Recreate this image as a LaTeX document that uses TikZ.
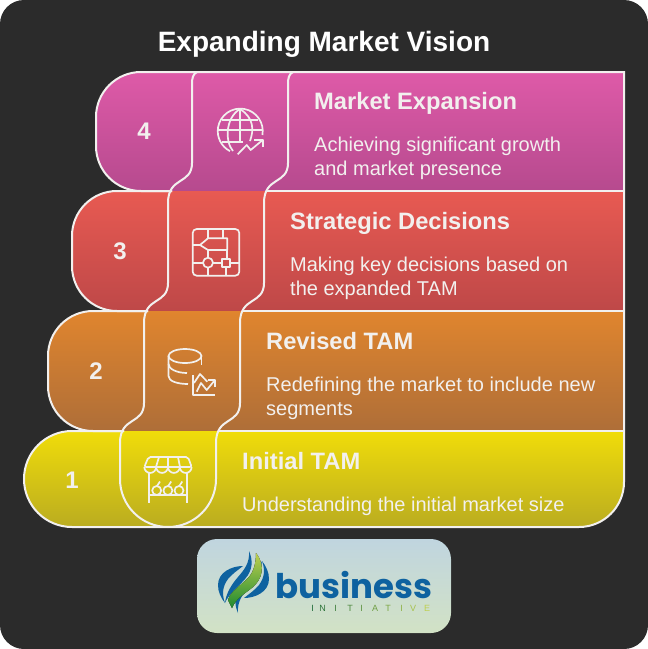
\documentclass[tikz,border=0pt]{standalone}
\usepackage{fontspec}
\setmainfont{Liberation Sans}
\newfontfamily\logofont{Poppins}
\definecolor{panelgray}{HTML}{2B2B2B}
\definecolor{linewhite}{HTML}{F2F0EE}
\definecolor{logoblue}{HTML}{0E62A0}
\definecolor{initdark}{HTML}{1F6B3A}
\definecolor{initlight}{HTML}{BFD050}
\definecolor{fourtop}{HTML}{DE5AA8}
\definecolor{fourbot}{HTML}{B64A8E}
\definecolor{threetop}{HTML}{E85A52}
\definecolor{threebot}{HTML}{BE4848}
\definecolor{twotop}{HTML}{E0852E}
\definecolor{twobot}{HTML}{AE6E38}
\definecolor{onetop}{HTML}{F0DC0A}
\definecolor{onebot}{HTML}{BAAC20}
\definecolor{logotop}{HTML}{C0D5DF}
\definecolor{logobot}{HTML}{D2E2C5}
\definecolor{swooshbot}{HTML}{1F8A30}
\tikzset{
  bandfour/.style={top color=fourtop,bottom color=fourbot},
  bandthree/.style={top color=threetop,bottom color=threebot},
  bandtwo/.style={top color=twotop,bottom color=twobot},
  bandone/.style={top color=onetop,bottom color=onebot},
  rim/.style={draw=linewhite,line width=2pt},
  glyph/.style={draw=linewhite,line width=1.7pt,line join=round},
  heading/.style={text=linewhite,anchor=base west,inner sep=0pt,font=\fontsize{23.7}{24}\selectfont\bfseries},
  blurb/.style={text=linewhite,anchor=base west,inner sep=0pt,font=\fontsize{20}{20}\selectfont},
  digit/.style={text=linewhite,inner sep=0pt,font=\fontsize{24}{24}\selectfont\bfseries},
}
\begin{document}
\begin{tikzpicture}[x=1pt,y=-1pt]
\useasboundingbox (0,0) rectangle (648,649);
\fill [white] (0,0) rectangle (648,649);
\fill [panelgray,rounded corners=24pt] (0,0) rectangle (648,649);
\node [text=white,inner sep=0pt,anchor=base,font=\fontsize{28}{28}\selectfont\bfseries] (title) at (324,51) {Expanding Market Vision};
% bands
\fill [bandfour] (141,72) -- (624,72) -- (624,191) -- (141,191) arc (90:180:45) -- (96,117) arc (180:270:45) -- cycle;
\fill [bandthree] (117,191) -- (624,191) -- (624,311) -- (117,311) arc (90:180:45) -- (72,236) arc (180:270:45) -- cycle;
\fill [bandtwo] (93,311) -- (624,311) -- (624,431) -- (93,431) arc (90:180:45) -- (48,356) arc (180:270:45) -- cycle;
\fill [bandone] (72,431) -- (624,431) -- (624,482) arc (0:90:45) -- (72,527) arc (90:270:48) -- cycle;
% outline
\draw [rim] (141,72) -- (624,72) -- (624,482) arc (0:90:45) -- (72,527) arc (90:270:48) -- (124,431);
\draw [rim] (172,191) -- (117,191) arc (270:180:45) -- (72,266) arc (180:90:45) -- (148,311);
\draw [rim] (172,191) -- (141,191) arc (90:180:45) -- (96,117) arc (180:270:45);
\draw [rim] (124,431) -- (93,431) arc (90:180:45) -- (48,356) arc (180:270:45) -- (148,311);
\draw [rim] (267,191) -- (624,191);
\draw [rim] (243,311) -- (624,311);
\draw [rim] (219,431) -- (624,431);
% winding column
\draw [rim] (197,72) .. controls (193,74) and (192,78) .. (192,84) -- (192,163) .. controls (192,185) and (168,176) .. (168,203) -- (168,283) .. controls (168,305) and (144,296) .. (144,323) -- (144,403) .. controls (144,425) and (120,416) .. (120,443) -- (120,479) arc (180:90:48) arc (90:0:48) -- (216,443) .. controls (216,416) and (240,425) .. (240,403) -- (240,323) .. controls (240,296) and (264,305) .. (264,283) -- (264,203) .. controls (264,176) and (288,185) .. (288,163) -- (288,84) .. controls (288,78) and (289,74) .. (293,72);
% numbers
\node [digit] (num4) at (144,131) {4};
\node [digit] (num3) at (120,251) {3};
\node [digit] (num2) at (96,371) {2};
\node [digit] (num1) at (72,480) {1};
% globe
\draw [glyph] (262.4,135) arc (10:-243:22.5);
\draw [glyph] (240,109) .. controls (225,118) and (225,142) .. (233,151);
\draw [glyph] (240,109) .. controls (254,118) and (254,130) .. (250,141);
\draw [glyph] (240,109) -- (240,142);
\draw [glyph] (222,120) -- (258,120);
\draw [glyph] (217.5,130) -- (262.5,130);
\draw [glyph] (222,142) -- (243,142);
\draw [glyph] (237.7,154.3) -- (246.7,145) -- (250.7,150) -- (262.7,140);
\draw [glyph] (254,140) -- (262.7,140) -- (262.7,147);
% chip
\draw [glyph,rounded corners=4pt] (192.7,229) rectangle (239.3,275.7);
\draw [glyph] (200,245) -- (208,238.3) -- (227.3,238.3) -- (227.3,250) -- (208,250) -- cycle;
\draw [glyph] (208,229) -- (208,238.3);
\draw [glyph] (223,229) -- (223,238.3);
\draw [glyph] (192.7,245) -- (200,245);
\draw [glyph] (208,250) -- (208,257.7);
\draw [glyph] (227.3,250) -- (227.3,259);
\draw [glyph] (208,262.7) circle (5);
\draw [glyph] (221.7,259) rectangle (230,267);
\draw [glyph] (192.7,262.7) -- (203,262.7);
\draw [glyph] (213,262.7) -- (221.7,262.7);
\draw [glyph] (230,262.7) -- (239.3,262.7);
\draw [glyph] (208,267.7) -- (208,275.7);
\draw [glyph] (226,267) -- (226,275.7);
% database with chart
\draw [glyph] (185,356) ellipse (16.5 and 7);
\draw [glyph] (168.5,356) -- (168.5,376) .. controls (168.5,381) and (177,384) .. (188,384);
\draw [glyph] (168.5,364) .. controls (168.5,369) and (177,373) .. (187,373);
\draw [glyph] (201.5,356) -- (201.5,365);
\draw [glyph] (193.3,375) -- (193.3,395) -- (215,395);
\draw [glyph] (194,383) -- (200,374) -- (207.3,381.7);
\draw [glyph] (196.7,391.7) -- (201,383) -- (206.7,390) -- (215,380);
\draw [glyph] (208,380) -- (215,380) -- (215,387);
% stall
\draw [glyph,rounded corners=2pt] (148.5,457) -- (188,457) -- (191.7,467) -- (144.3,467) -- cycle;
\draw [glyph] (159,457) -- (156,467);
\draw [glyph] (168,457) -- (168,467);
\draw [glyph] (178,457) -- (180,467);
\draw [glyph] (144.3,467) arc (180:0:5.92) arc (180:0:5.92) arc (180:0:5.92) arc (180:0:5.92);
\draw [glyph] (149,472) -- (149,503);
\draw [glyph] (187.3,472) -- (187.3,503);
\draw [glyph] (149,495) -- (187.3,495);
\draw [glyph] (156.7,490.5) circle (4.5);
\draw [glyph] (167.9,490.5) circle (4.5);
\draw [glyph] (179,490.5) circle (4.5);
\draw [glyph] (157,486) -- (160,481.5);
\draw [glyph] (168.2,486) -- (171.2,481.5);
\draw [glyph] (179.3,486) -- (182.3,481.5);
% texts
\node [heading] (head4) at (314,109) {Market Expansion};
\node [blurb] (desc4a) at (314,151) {Achieving significant growth};
\node [blurb] (desc4b) at (314,175) {and market presence};
\node [heading] (head3) at (290,229) {Strategic Decisions};
\node [blurb] (desc3a) at (290,271) {Making key decisions based on};
\node [blurb] (desc3b) at (290,295) {the expanded TAM};
\node [heading] (head2) at (266,349) {Revised TAM};
\node [blurb] (desc2a) at (266,391) {Redefining the market to include new};
\node [blurb] (desc2b) at (266,415) {segments};
\node [heading] (head1) at (242,469) {Initial TAM};
\node [blurb] (desc1a) at (242,511) {Understanding the initial market size};
% logo
\fill [top color=logotop,bottom color=logobot,rounded corners=20pt] (197,539) rectangle (451,633);
\fill [logoblue] (243,566) .. controls (232,566) and (218,572) .. (218,585) .. controls (218,592) and (221,598) .. (225,603) .. controls (222,595) and (222,587) .. (228,579) .. controls (232,574) and (238,570) .. (243,566);
\fill [logoblue] (249,551) .. controls (253,560) and (253,570) .. (245,579) .. controls (238,587) and (228,595) .. (225,603) .. controls (226,593) and (232,584) .. (238,577) .. controls (244,570) and (250,563) .. (249,551);
\begin{scope}[rotate around={180:(243.5,582)}]
\fill [logoblue] (243,566) .. controls (232,566) and (218,572) .. (218,585) .. controls (218,592) and (221,598) .. (225,603) .. controls (222,595) and (222,587) .. (228,579) .. controls (232,574) and (238,570) .. (243,566);
\fill [logoblue] (249,551) .. controls (253,560) and (253,570) .. (245,579) .. controls (238,587) and (228,595) .. (225,603) .. controls (226,593) and (232,584) .. (238,577) .. controls (244,570) and (250,563) .. (249,551);
\end{scope}
\fill [top color=initlight,bottom color=swooshbot] (256,553) .. controls (256,562) and (254,572) .. (248,578) .. controls (240,586) and (230,592) .. (228,600) -- (232,608) .. controls (236,598) and (246,593) .. (253,587) .. controls (262,579) and (266,566) .. (256,553);
\node [text=logoblue,inner sep=0pt,anchor=base west,font=\logofont\fontsize{34}{34}\selectfont\bfseries] (logoname) at (275,598) {business};
\foreach \lx/\ltr/\pct [count=\i] in {312.7/I/100,322.7/N/90,335.7/I/80,350/T/70,361.7/I/60,375/A/50,388/T/40,401.6/I/30,413/V/15,427/E/0} {
  \node [text=initdark!\pct!initlight,inner sep=0pt,anchor=base,font=\fontsize{9}{9}\selectfont] (logoi\i) at (\lx,611) {\ltr};
}
\end{tikzpicture}
\end{document}
